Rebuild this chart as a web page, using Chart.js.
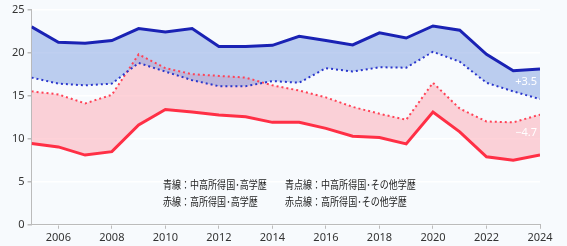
<!DOCTYPE html>
<html>
<head>
<meta charset="utf-8">
<script src="https://cdn.jsdelivr.net/npm/chart.js@4"></script>
<style>
  html, body { margin: 0; padding: 0; background: #f7fafd; }
  #wrap { width: 567px; height: 246px; position: relative; }
</style>
</head>
<body>
<div id="wrap"><canvas id="chart"></canvas></div>
<script>
// years on the x axis
const years = [2005, 2006, 2007, 2008, 2009, 2010, 2011, 2012, 2013, 2014,
  2015, 2016, 2017, 2018, 2019, 2020, 2021, 2022, 2023, 2024];
const xTicks = [2006, 2008, 2010, 2012, 2014, 2016, 2018, 2020, 2022, 2024];

// 中高所得国・高学歴 (blue solid)
const blueHigh = [23.0, 21.2, 21.1, 21.4, 22.8, 22.4, 22.8, 20.7, 20.7, 20.85,
  21.9, 21.4, 20.9, 22.3, 21.7, 23.1, 22.6, 19.8, 17.9, 18.1];
// 中高所得国・その他学歴 (blue dotted)
const blueOther = [17.1, 16.4, 16.2, 16.4, 18.8, 17.8, 16.8, 16.1, 16.1, 16.7,
  16.5, 18.2, 17.8, 18.3, 18.25, 20.1, 18.95, 16.5, 15.5, 14.6];
// 高所得国・高学歴 (red solid)
const redHigh = [9.45, 9.05, 8.1, 8.5, 11.6, 13.4, 13.1, 12.75, 12.55, 11.9,
  11.9, 11.2, 10.3, 10.15, 9.4, 13.1, 10.8, 7.9, 7.5, 8.1];
// 高所得国・その他学歴 (red dotted)
const redOther = [15.5, 15.15, 14.1, 15.1, 19.8, 18.2, 17.5, 17.3, 17.1, 16.2,
  15.6, 14.8, 13.7, 12.9, 12.2, 16.5, 13.5, 12.0, 11.9, 12.8];

const gapLabels = ["+3.5", "−4.7"];
const legendLines = [
  ["青線：中高所得国･高学歴", "青点線：中高所得国･その他学歴"],
  ["赤線：高所得国･高学歴", "赤点線：高所得国･その他学歴"]
];

const toPoints = arr => arr.map((v, i) => ({ x: years[i], y: v }));

// white gap labels at the right end + the text legend
const textPlugin = {
  id: "texts",
  afterDatasetsDraw(chart) {
    const { ctx, scales: { x, y } } = chart;
    const last = years.length - 1;
    ctx.save();
    ctx.font = "11px 'Noto Sans', sans-serif";
    ctx.fillStyle = "#ffffff";
    ctx.textAlign = "right";
    ctx.textBaseline = "middle";
    const xr = x.getPixelForValue(years[last]) - 3;
    ctx.fillText(gapLabels[0], xr, y.getPixelForValue((blueHigh[last] + blueOther[last]) / 2) - 2);
    ctx.fillText(gapLabels[1], xr, y.getPixelForValue((redHigh[last] + redOther[last]) / 2) - 2);

    // legend text, squeezed a little like the original's narrow font
    ctx.font = "11px 'Noto Sans CJK JP', sans-serif";
    ctx.fillStyle = "#222222";
    ctx.textAlign = "left";
    legendLines.forEach((row, r) => {
      const w0 = ctx.measureText(row[0]).width * 0.82;
      const w1 = ctx.measureText(row[1]).width * 0.82;
      ctx.fillText(row[0], 163, 185 + r * 17, w0);
      ctx.fillText(row[1], 285, 185 + r * 17, w1);
    });
    ctx.restore();
  }
};

new Chart(document.getElementById("chart"), {
  type: "line",
  data: {
    datasets: [
      {
        data: toPoints(blueHigh),
        borderColor: "#1a22b4",
        borderWidth: 3,
        backgroundColor: "rgba(128,160,226,0.5)",
        fill: "+1"
      },
      {
        data: toPoints(blueOther),
        borderColor: "#2a36cc",
        borderWidth: 2,
        borderDash: [2, 3],
        fill: false
      },
      {
        data: toPoints(redHigh),
        borderColor: "#ff2f45",
        borderWidth: 3,
        backgroundColor: "rgba(253,165,177,0.5)",
        fill: "+1"
      },
      {
        data: toPoints(redOther),
        borderColor: "#ff4256",
        borderWidth: 2,
        borderDash: [2, 3],
        fill: false
      }
    ]
  },
  options: {
    responsive: true,
    maintainAspectRatio: false,
    animation: false,
    layout: { padding: { top: 2, right: 27, left: 9, bottom: 0 } },
    elements: { point: { radius: 0 }, line: { tension: 0 } },
    plugins: {
      legend: { display: false },
      tooltip: { enabled: false },
      filler: { drawTime: "beforeDatasetsDraw" }
    },
    scales: {
      x: {
        type: "linear",
        min: 2005,
        max: 2024,
        afterBuildTicks: axis => { axis.ticks = xTicks.map(v => ({ value: v })); },
        ticks: {
          color: "#333",
          font: { family: "'Noto Sans', sans-serif", size: 11 },
          callback: v => String(v),
          maxRotation: 0,
          autoSkip: false,
          padding: 2
        },
        grid: { drawOnChartArea: false, tickLength: 4, color: "#bbbbbb" },
        border: { color: "#bbbbbb" }
      },
      y: {
        min: 0,
        max: 25,
        ticks: {
          stepSize: 5,
          color: "#333",
          font: { family: "'Noto Sans', sans-serif", size: 11 },
          padding: 3
        },
        grid: { color: "#ffffff", lineWidth: 1.5, tickLength: 4, tickColor: "#bbbbbb" },
        border: { color: "#bbbbbb" }
      }
    }
  },
  plugins: [textPlugin]
});
</script>
</body>
</html>
